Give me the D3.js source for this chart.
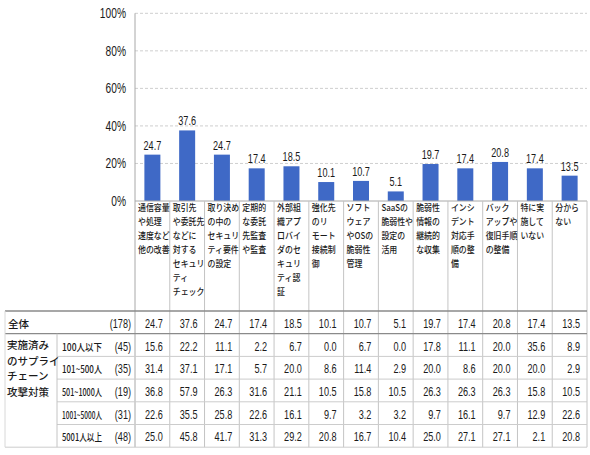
<!DOCTYPE html>
<html><head><meta charset="utf-8">
<script src="https://cdn.jsdelivr.net/npm/d3@7"></script>
<style>
body{margin:0;background:#fff;}
svg{display:block;}
.num{font-family:"Liberation Sans",Arial,sans-serif;}
.jp{font-family:"Noto Sans CJK JP",sans-serif;font-weight:500;}
</style></head>
<body>
<svg id="c" width="590" height="455"></svg>
<script>
const categories = [
  ["通信容量","や処理","速度など","他の改善"],
  ["取引先","や委託先","などに","対する","セキュリ","ティ","チェック"],
  ["取り決め","の中の","セキュリ","ティ要件","の設定"],
  ["定期的","な委託","先監査","や監査"],
  ["外部組","織アプ","ロバイ","ダのセ","キュリ","ティ認","証"],
  ["強化先","のリ","モート","接続制","御"],
  ["ソフト","ウェア","やOSの","脆弱性","管理"],
  ["SaaSの","脆弱性や","設定の","活用"],
  ["脆弱性","情報の","継続的","な収集"],
  ["インシ","デント","対応手","順の整","備"],
  ["バック","アップや","復旧手順","の整備"],
  ["特に実","施して","いない"],
  ["分から","ない"]
];
const overallLabel = "全体";
const overallN = "(178)";
const overallValues = [24.7,37.6,24.7,17.4,18.5,10.1,10.7,5.1,19.7,17.4,20.8,17.4,13.5];
const groupLabel = ["実施済み","のサプライ","チェーン","攻撃対策"];
const groupRows = ["100人以下","101~500人","501~1000人","1001~5000人","5001人以上"];
const groupN = ["(45)","(35)","(19)","(31)","(48)"];
const groupValues = [
  [15.6,22.2,11.1,2.2,6.7,0.0,6.7,0.0,17.8,11.1,20.0,35.6,8.9],
  [31.4,37.1,17.1,5.7,20.0,8.6,11.4,2.9,20.0,8.6,20.0,20.0,2.9],
  [36.8,57.9,26.3,31.6,21.1,10.5,15.8,10.5,26.3,26.3,26.3,15.8,10.5],
  [22.6,35.5,25.8,22.6,16.1,9.7,3.2,3.2,9.7,16.1,9.7,12.9,22.6],
  [25.0,45.8,41.7,31.3,29.2,20.8,16.7,10.4,25.0,27.1,27.1,2.1,20.8]
];
const yTicks = [0,20,40,60,80,100];

const svg = d3.select("#c");
const pLeft = 135, pRight = 587, pTop = 13.3, pBase = 201;
const tableLeft = 5, subLeft = 57;
const tableTop = 311, rowH = 22.7;
const nRows = 1 + groupRows.length;
const tableBottom = tableTop + rowH*nRows;
const NX = 0.73; // horizontal squeeze of digits

const x = d3.scaleBand().domain(d3.range(categories.length)).range([pLeft,pRight]).paddingInner(0).paddingOuter(0);
const y = d3.scaleLinear().domain([0,100]).range([pBase,pTop]);
const barW = 16;

function txt(parent, px, py, s, o){
  const g = parent.append("g");
  const t = g.append("text").attr("class",o.cls||"num").attr("font-size",o.size||12)
    .attr("fill","#1a1a1a").attr("text-anchor",o.anchor||"start").text(s);
  let sx = o.sx||1;
  if(o.fit){ const w = t.node().getComputedTextLength(); sx = o.fit / w; }
  g.attr("transform",`translate(${px},${py}) scale(${sx},1)`);
  return t;
}

// gridlines
svg.append("g").selectAll("line").data(yTicks.filter(d=>d>0)).join("line")
  .attr("x1",pLeft).attr("x2",pRight).attr("y1",d=>y(d)).attr("y2",d=>y(d))
  .attr("stroke","#cfcfcf").attr("stroke-dasharray","3,2").attr("stroke-width",1);

// y axis
const ya = svg.append("g");
yTicks.forEach(d=>{
  txt(ya, pLeft-9, y(d)+5, d+"%", {size:14, sx:NX, anchor:"end"});
});

// bars
svg.append("g").selectAll("rect").data(overallValues).join("rect")
  .attr("x",(d,i)=>x(i)+(x.bandwidth()-barW)/2).attr("width",barW)
  .attr("y",d=>y(d)).attr("height",d=>pBase-y(d)).attr("fill","#3f69c6");

// value labels
const vl = svg.append("g");
overallValues.forEach((d,i)=>{
  txt(vl, x(i)+x.bandwidth()/2, y(d)-5, d.toFixed(1), {size:12.5, sx:NX, anchor:"middle"});
});

// axis lines
svg.append("line").attr("x1",pLeft).attr("x2",pLeft).attr("y1",pTop).attr("y2",tableBottom).attr("stroke","#a8a8a8");
svg.append("line").attr("x1",pLeft).attr("x2",pRight).attr("y1",pBase).attr("y2",pBase).attr("stroke","#a8a8a8");

// column separators
svg.append("g").selectAll("line").data(d3.range(1,categories.length+1)).join("line")
  .attr("x1",i=>i<categories.length?x(i):pRight).attr("x2",i=>i<categories.length?x(i):pRight)
  .attr("y1",pBase).attr("y2",tableBottom).attr("stroke","#c4c4c4");

// category labels
const cl = svg.append("g");
categories.forEach((lines,i)=>{
  lines.forEach((ln,j)=>{
    txt(cl, x(i)+3, 211+j*14, ln, {cls:"jp", size:9, sx:0.88});
  });
});

// table lines
const tl = svg.append("g");
for(let r=0;r<=nRows;r++){
  const yy = tableTop + r*rowH;
  let x1 = tableLeft;
  if(r>=2 && r<nRows) x1 = subLeft;
  tl.append("line").attr("x1",x1).attr("x2",pRight).attr("y1",yy).attr("y2",yy)
    .attr("stroke", (r<=1)?"#8a8a8a":"#cccccc").attr("stroke-width",(r<=1)?1.3:1);
}
tl.append("line").attr("x1",tableLeft).attr("x2",tableLeft).attr("y1",tableTop).attr("y2",tableBottom).attr("stroke","#d8d8d8");
tl.append("line").attr("x1",subLeft).attr("x2",subLeft).attr("y1",tableTop+rowH).attr("y2",tableBottom).attr("stroke","#c4c4c4");

const ry = r => tableTop + r*rowH + rowH/2 + 5.5;
const tg = svg.append("g");
txt(tg, tableLeft+3, ry(0), overallLabel, {cls:"jp", size:10.5});
txt(tg, pLeft-4, ry(0), overallN, {size:12.5, sx:NX, anchor:"end"});

const allRows = [overallValues].concat(groupValues);
allRows.forEach((row,r)=>{
  row.forEach((d,i)=>{
    txt(tg, x(i)+x.bandwidth()-7, ry(r), d.toFixed(1), {size:12.5, sx:NX, anchor:"end"});
  });
});

groupRows.forEach((g,k)=>{
  txt(tg, subLeft+5, ry(k+1), g, {cls:"jp", size:10, fit:40});
  txt(tg, pLeft-4, ry(k+1), groupN[k], {size:12.5, sx:NX, anchor:"end"});
});
groupLabel.forEach((ln,j)=>{
  txt(tg, tableLeft+2, 349+j*15.6, ln, {cls:"jp", size:10.5});
});
</script>
</body></html>
